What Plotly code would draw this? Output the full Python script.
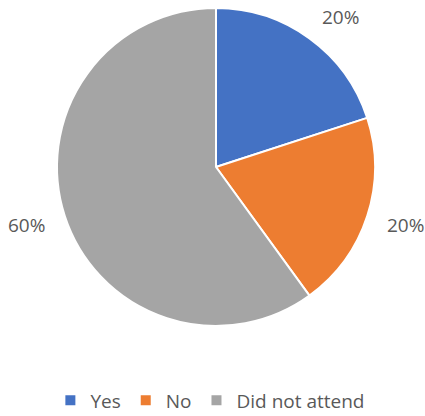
import math
import plotly.graph_objects as go

labels = ["Yes", "No", "Did not attend"]
values = [20, 20, 60]
colors = ["#4472C4", "#ED7D31", "#A5A5A5"]

W, H = 425, 416
cx, cy, r = 216, 167, 159

fig = go.Figure(go.Pie(
    labels=labels, values=values, sort=False, direction="clockwise", rotation=0,
    marker=dict(colors=colors, line=dict(color="white", width=2)),
    textinfo="none",
    domain=dict(x=[(cx - r) / W, (cx + r) / W], y=[1 - (cy + r) / H, 1 - (cy - r) / H]),
    hoverinfo="label+percent",
))

# data labels placed Excel-style outside each slice
total = sum(values)
cum = 0
hw, hh = 19, 7
for v in values:
    mid = (cum + v / 2) / total * 2 * math.pi
    cum += v
    s, c = math.sin(mid), math.cos(mid)
    px = cx + r * 1.13 * s
    py = cy - r * 1.13 * c + 2
    px += hw if s > 0.3 else (-hw if s < -0.3 else 0)
    py += -hh if c > 0.7 else (hh if c < -0.7 else 0)
    fig.add_annotation(
        x=px / W, y=1 - py / H, xref="paper", yref="paper",
        text=f"{round(v / total * 100)}%", showarrow=False,
        xanchor="center", yanchor="middle",
        font=dict(size=19, color="#595959", family="Open Sans"),
    )

fig.update_layout(
    width=W, height=H, margin=dict(l=0, r=0, t=0, b=0, autoexpand=False),
    paper_bgcolor="white", plot_bgcolor="white",
    font=dict(family="Open Sans", color="#595959"),
    legend=dict(orientation="h", x=0.495, xanchor="center", y=-0.008, yanchor="bottom",
                font=dict(size=19, color="#595959"), traceorder="normal"),
)
fig.write_html("out.html", config={"displayModeBar": False},
               post_script="document.body.style.margin='0';document.body.style.overflow='hidden';")
